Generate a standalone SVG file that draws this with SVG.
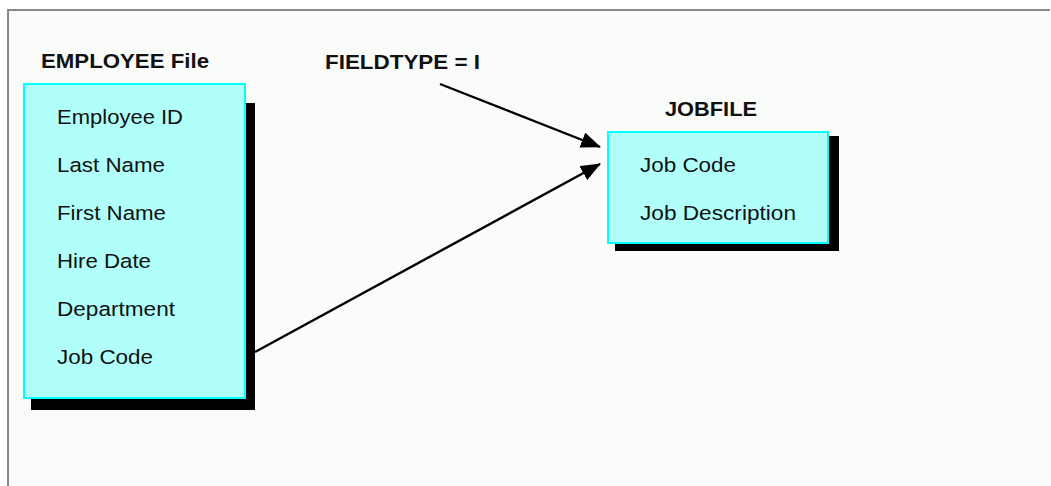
<svg xmlns="http://www.w3.org/2000/svg" width="1051" height="486" viewBox="0 0 1051 486">
  <defs>
    <marker id="arrow" markerWidth="20" markerHeight="16" refX="19" refY="8" orient="auto" markerUnits="userSpaceOnUse">
      <path d="M0,0 L20,8 L0,16 Z" fill="#000"/>
    </marker>
  </defs>
  <style>
    .title { font-family: "Liberation Sans", Arial, sans-serif; font-weight: bold; font-size: 21px; fill: #111; }
    .field { font-family: "Liberation Sans", Arial, sans-serif; font-size: 20.5px; fill: #111; }
    .box { fill: #b0fffa; stroke: #00ffff; stroke-width: 2; }
    .shadow { fill: #000; }
    .conn { stroke: #000; stroke-width: 2.4; fill: none; }
  </style>
  <rect x="0" y="0" width="1051" height="486" fill="#ffffff"/>
  <rect x="8" y="10" width="1043" height="476" fill="#fafcfa"/>
  <line x1="8" y1="10" x2="1050" y2="10" stroke="#888" stroke-width="2"/>
  <line x1="8" y1="9" x2="8" y2="486" stroke="#888" stroke-width="2"/>

  <g id="employee">
    <text class="title" x="41" y="68" textLength="168" lengthAdjust="spacingAndGlyphs">EMPLOYEE File</text>
    <rect class="shadow" x="31" y="103" width="224" height="307"/>
    <rect class="box" x="24" y="84" width="221" height="314"/>
    <text class="field" x="57" y="124" textLength="126" lengthAdjust="spacingAndGlyphs">Employee ID</text>
    <text class="field" x="57" y="172" textLength="108" lengthAdjust="spacingAndGlyphs">Last Name</text>
    <text class="field" x="57" y="220" textLength="109" lengthAdjust="spacingAndGlyphs">First Name</text>
    <text class="field" x="57" y="268" textLength="94" lengthAdjust="spacingAndGlyphs">Hire Date</text>
    <text class="field" x="57" y="316" textLength="118" lengthAdjust="spacingAndGlyphs">Department</text>
    <text class="field" x="57" y="364" textLength="96" lengthAdjust="spacingAndGlyphs">Job Code</text>
  </g>

  <g id="fieldtype">
    <text class="title" x="325" y="69" textLength="155" lengthAdjust="spacingAndGlyphs">FIELDTYPE = I</text>
  </g>

  <g id="jobfile">
    <text class="title" x="665" y="116" textLength="92" lengthAdjust="spacingAndGlyphs">JOBFILE</text>
    <rect class="shadow" x="615" y="136" width="224" height="115"/>
    <rect class="box" x="608" y="132" width="220" height="111"/>
    <text class="field" x="640" y="172" textLength="96" lengthAdjust="spacingAndGlyphs">Job Code</text>
    <text class="field" x="640" y="220" textLength="156" lengthAdjust="spacingAndGlyphs">Job Description</text>
  </g>

  <g id="connectors">
    <line class="conn" x1="440" y1="84" x2="600" y2="147" marker-end="url(#arrow)"/>
    <line class="conn" x1="255" y1="352" x2="600" y2="164" marker-end="url(#arrow)"/>
  </g>
</svg>
